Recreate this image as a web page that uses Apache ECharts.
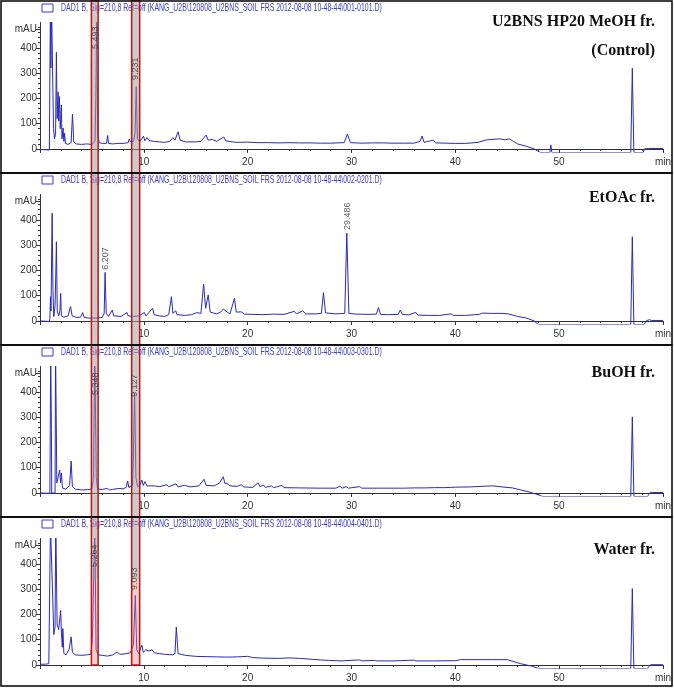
<!DOCTYPE html>
<html>
<head>
<meta charset="utf-8">
<script src="https://cdn.jsdelivr.net/npm/echarts@6/dist/echarts.min.js"></script>
<style>
  html, body { margin: 0; padding: 0; background: #fff; }
  #chart { width: 674px; height: 690px; }
</style>
</head>
<body>
<div id="chart"></div>
<script>
// chromatograms, [time (min), signal (mAU)]
const control = [
  [0, -2], [0.5, -3], [0.9, -4], [0.98, -2], [1.0, 560], [1.05, 320], [1.12, 560], [1.25, 560], [1.3, 80], [1.4, 40],
  [1.5, 60], [1.58, 382], [1.65, 120], [1.74, 226], [1.8, 110], [1.87, 207], [1.95, 80], [2.06, 174], [2.12, 40],
  [2.22, 83], [2.3, 30], [2.37, 62], [2.45, 22], [2.7, 18], [3.0, 25], [3.13, 138], [3.25, 28], [3.5, 20], [4.0, 18],
  [4.5, 20], [5.0, 18], [5.3, 30], [5.38, 200], [5.47, 560], [5.55, 60], [5.7, 25], [6.0, 22], [6.4, 22], [6.52, 53],
  [6.6, 22], [7.0, 20], [7.5, 22], [8.0, 22], [8.5, 25], [8.6, 40], [8.7, 28], [9.0, 30], [9.15, 60], [9.27, 246],
  [9.38, 40], [9.6, 28], [9.97, 51], [10.1, 32], [10.3, 45], [10.5, 33], [11.0, 30], [11.5, 28], [12.0, 26],
  [12.5, 30], [12.8, 45], [13.0, 35], [13.3, 68], [13.5, 35], [14.0, 28], [15.0, 28], [15.5, 30], [16.0, 55],
  [16.2, 35], [16.6, 38], [17.0, 30], [17.7, 47], [17.9, 32], [18.5, 28], [19.0, 26], [20.0, 27], [21.0, 25],
  [22.0, 25], [23.0, 24], [24.0, 25], [25.0, 24], [26.0, 24], [27.0, 23], [28.0, 23], [29.3, 25], [29.6, 59],
  [29.9, 25], [31.0, 23], [32.0, 24], [33.0, 24], [34.0, 23], [35.0, 23], [36.0, 23], [36.6, 30], [36.8, 51],
  [37.0, 26], [37.9, 35], [38.1, 24], [39.0, 23], [40.0, 22], [41.0, 22], [42.2, 26], [43.0, 36], [44.3, 40],
  [44.8, 36], [45.2, 40], [45.6, 30], [46.0, 20], [46.9, 10], [47.6, 0], [48.2, -14], [49.1, -14], [49.2, 16],
  [49.3, -14], [56.9, -14], [57.05, 319], [57.2, -14], [58.1, -14], [58.2, 0], [58.6, 2], [60, 2]
];
const etoac = [
  [0, 0], [0.5, -1], [0.9, -2], [0.95, 10], [1.01, 96], [1.06, 40], [1.17, 426], [1.25, 120], [1.33, 17], [1.45, 60],
  [1.52, 182], [1.58, 313], [1.66, 40], [1.8, 20], [1.92, 40], [1.99, 109], [2.06, 20], [2.3, 15], [2.7, 20],
  [2.94, 57], [3.1, 20], [3.5, 14], [3.9, 15], [4.11, 33], [4.25, 14], [4.6, 12], [5.0, 11], [5.5, 12], [6.0, 14],
  [6.18, 30], [6.27, 192], [6.38, 30], [6.6, 18], [6.96, 43], [7.1, 20], [7.8, 18], [8.38, 33], [8.5, 20], [9.0, 18],
  [9.5, 20], [10.06, 33], [10.2, 20], [10.85, 50], [11.0, 25], [11.5, 20], [12.0, 18], [12.4, 25], [12.66, 96],
  [12.8, 30], [13.07, 40], [13.2, 25], [14.0, 22], [14.6, 25], [15.1, 33], [15.5, 30], [15.76, 146], [15.95, 50],
  [16.2, 103], [16.4, 35], [17.0, 28], [17.4, 35], [17.66, 47], [18.04, 35], [18.3, 28], [18.73, 90], [18.9, 35],
  [19.4, 36], [19.7, 27], [20.5, 26], [21.5, 25], [22.5, 27], [23.5, 26], [24.5, 38], [24.7, 28], [25.3, 40],
  [25.6, 28], [26.5, 28], [27.1, 30], [27.3, 112], [27.5, 32], [28.5, 28], [29.35, 30], [29.55, 347], [29.75, 30],
  [30.5, 27], [31.5, 26], [32.4, 27], [32.6, 53], [32.8, 26], [33.5, 25], [34.5, 26], [34.7, 43], [34.9, 26],
  [35.5, 24], [36.2, 34], [36.4, 23], [37.5, 22], [38.5, 22], [39.6, 28], [39.8, 22], [41.0, 22], [42.3, 26],
  [42.6, 31], [43.5, 30], [44.5, 30], [45.1, 28], [46.0, 18], [46.9, 11], [47.6, 0], [48.0, -14], [56.9, -14],
  [57.05, 333], [57.2, -14], [58.2, -14], [58.4, 1], [58.7, 5], [58.9, 2], [60, 2]
];
const buoh = [
  [0, 0], [0.5, -1], [0.95, -1], [1.0, 0], [1.03, 560], [1.08, 560], [1.1, 250], [1.13, 0], [1.45, 0], [1.5, 560],
  [1.58, 560], [1.62, 40], [1.75, 35], [1.9, 91], [1.98, 40], [2.06, 79], [2.15, 30], [2.2, 18], [2.5, 15],
  [2.85, 30], [3.0, 126], [3.12, 25], [3.4, 15], [4.0, 12], [4.6, 13], [5.0, 16], [5.15, 60], [5.28, 560],
  [5.42, 60], [5.55, 15], [6.0, 14], [6.5, 18], [6.7, 12], [7.0, 14], [7.6, 18], [8.0, 16], [8.3, 22], [8.45, 47],
  [8.55, 22], [8.92, 30], [8.98, 120], [9.11, 395], [9.24, 60], [9.4, 25], [9.6, 28], [9.81, 51], [9.95, 30],
  [10.1, 45], [10.3, 28], [11.0, 28], [11.5, 25], [12.2, 32], [12.4, 25], [13.1, 36], [13.3, 24], [13.9, 30],
  [14.5, 24], [15.3, 28], [15.8, 54], [16.0, 30], [16.8, 28], [17.3, 40], [17.66, 64], [17.8, 38], [18.0, 38],
  [18.3, 28], [19.0, 26], [19.4, 33], [19.6, 24], [20.5, 22], [21.0, 40], [21.2, 24], [21.5, 32], [21.7, 22],
  [22.3, 28], [22.5, 21], [23.3, 30], [23.5, 21], [25.0, 20], [27.0, 19], [28.5, 19], [28.9, 27], [29.1, 19],
  [29.5, 25], [29.7, 19], [30.8, 25], [31.0, 19], [33.0, 19], [35.0, 19], [36.0, 20], [37.0, 20], [38.0, 21],
  [39.0, 21], [40.0, 23], [41.5, 24], [43.0, 27], [43.6, 28], [44.5, 24], [45.5, 20], [46.3, 12], [47.2, 3],
  [48.2, -10], [48.3, -3], [48.4, -14], [56.9, -14], [57.05, 301], [57.2, -14], [58.5, -14], [58.8, 3], [59.0, 2],
  [60, 2]
];
const water = [
  [0, 3], [0.5, 3], [0.85, 5], [0.9, 12], [0.95, 5], [1.01, 560], [1.14, 560], [1.2, 300], [1.33, 120], [1.45, 150],
  [1.52, 560], [1.6, 560], [1.65, 158], [1.8, 140], [1.99, 216], [2.06, 130], [2.1, 127], [2.15, 70], [2.2, 144],
  [2.3, 45], [2.5, 40], [2.8, 61], [3.0, 111], [3.12, 50], [3.4, 40], [4.0, 38], [4.5, 40], [4.9, 42], [5.05, 104],
  [5.28, 560], [5.4, 60], [5.6, 40], [6.0, 38], [6.5, 35], [7.0, 40], [7.43, 51], [7.7, 42], [8.2, 44], [8.7, 48],
  [8.92, 71], [9.0, 80], [9.18, 275], [9.32, 60], [9.5, 45], [9.81, 78], [9.95, 50], [10.2, 60], [10.5, 55],
  [10.8, 60], [11.0, 48], [11.5, 45], [12.0, 42], [12.8, 40], [13.0, 45], [13.13, 150], [13.3, 45], [14.0, 38],
  [15.0, 34], [16.0, 33], [17.0, 32], [18.0, 31], [19.0, 32], [20.0, 34], [20.5, 29], [21.5, 27], [23.0, 26],
  [24.0, 28], [25.0, 26], [26.0, 23], [27.0, 20], [27.8, 18], [29.0, 16], [30.8, 20], [31.0, 16], [32.2, 18],
  [32.4, 16], [34.0, 16], [36.0, 19], [36.2, 16], [38.0, 16], [40.0, 17], [40.5, 21], [42.0, 21], [43.5, 21],
  [45.0, 21], [46.3, 5], [47.4, -5], [48.0, -14], [56.9, -14], [57.05, 302], [57.2, -14], [58.5, -14], [58.8, 1],
  [60, 1]
];

// retention time labels, [time, mAU where the label starts, text]
const controlPeaks = [[5.38, 395, '5.493'], [9.18, 273, '9.231']];
const etoacPeaks = [[6.27, 202, '6.207'], [29.6, 360, '29.486']];
const buohPeaks = [[5.31, 387, '5.348'], [9.1, 380, '9.127']];
const waterPeaks = [[5.28, 387, '5.264'], [9.1, 296, '9.093']];

const fileIds = ['001-0101', '002-0201', '003-0301', '004-0401'];
const sampleNames = [['U2BNS HP20 MeOH fr.', '(Control)'], ['EtOAc fr.'], ['BuOH fr.'], ['Water fr.']];

const yLabelValues = [0, 100, 200, 300, 400];
const yMinorValues = [20, 40, 60, 80, 120, 140, 160, 180, 220, 240, 260, 280, 320, 340, 360, 380, 420, 440, 460, 480];
const unitValue = 474;

// marked retention windows, [from, to] in min
const bands = [[4.95, 5.6], [8.83, 9.6]];

const traces = [control, etoac, buoh, water];
const peaks = [controlPeaks, etoacPeaks, buohPeaks, waterPeaks];

const LINE = '#2a2ab8';
const AXIS = '#333';
const bottoms = [152, 324, 496, 668];
const plotH = 129.5;

const chart = echarts.init(document.getElementById('chart'));

const grid = [], xAxis = [], yAxis = [], series = [];
traces.forEach((trace, i) => {
  grid.push({ left: 40, right: 2, top: bottoms[i] - plotH, height: plotH });
  xAxis.push({
    type: 'value', gridIndex: i, min: 0, max: 60, interval: 10,
    axisLine: { lineStyle: { color: AXIS, width: 1 } },
    axisTick: { length: 4, lineStyle: { color: AXIS } },
    minorTick: { show: true, splitNumber: 5, length: 2, lineStyle: { color: AXIS } },
    splitLine: { show: false },
    axisLabel: {
      color: AXIS, fontSize: 10, margin: 5, fontFamily: 'Liberation Sans Narrow, Liberation Sans, sans-serif',
      formatter: v => (v === 0 ? '' : v === 60 ? 'min' : String(v))
    }
  });
  yAxis.push({
    type: 'value', gridIndex: i, min: -12, max: 500, position: 'left',
    axisLine: { show: true, lineStyle: { color: AXIS, width: 1 } },
    axisTick: { show: true, length: 4, customValues: yLabelValues.concat([unitValue]), lineStyle: { color: AXIS } },
    splitLine: { show: false },
    axisLabel: {
      color: AXIS, fontSize: 10, margin: 3, customValues: yLabelValues.concat([unitValue]),
      fontFamily: 'Liberation Sans Narrow, Liberation Sans, sans-serif',
      formatter: v => (v === unitValue ? 'mAU' : String(v))
    }
  });
  yAxis.push({
    type: 'value', gridIndex: i, min: -12, max: 500, position: 'left', offset: 0,
    axisLine: { show: false },
    axisTick: { show: true, length: 2, customValues: yMinorValues, lineStyle: { color: AXIS } },
    axisLabel: { show: false },
    splitLine: { show: false }
  });
  series.push({
    type: 'line', xAxisIndex: i, yAxisIndex: i * 2, data: trace,
    showSymbol: false, symbol: 'none', animation: false, silent: true,
    lineStyle: { color: LINE, width: 1 }, z: 3
  });
  series.push({
    type: 'scatter', xAxisIndex: i, yAxisIndex: i * 2, data: peaks[i],
    symbolSize: 0, animation: false, silent: true,
    label: {
      show: true, position: 'top', distance: 0, rotate: 90, align: 'left', verticalAlign: 'middle',
      fontSize: 9, color: '#333', fontFamily: 'Liberation Sans, sans-serif',
      formatter: p => p.data[2]
    },
    z: 10
  });
});

chart.setOption({ animation: false, grid, xAxis, yAxis, series });

// headers, panel labels, frames and the marked windows
const graphic = [];
const panelH = 172;
fileIds.forEach((id, i) => {
  const y0 = i * panelH;
  graphic.push({
    type: 'rect', shape: { x: 42, y: y0 + 4, width: 11, height: 8 },
    style: { fill: 'none', stroke: '#3b3bd0', lineWidth: 1 }, z: 5
  });
  graphic.push({
    type: 'text', x: 61, y: y0 + 8, scaleX: 0.63,
    style: {
      text: 'DAD1 B, Sig=210,8 Ref=off (KANG_U2B\\120808_U2BNS_SOIL FRS 2012-08-08 10-48-44\\' + id + '.D)',
      fill: '#3b3bd0', fontSize: 11, fontFamily: 'Liberation Sans, sans-serif',
      verticalAlign: 'middle'
    }, z: 5
  });
});
const nameY = [[22, 51], [198], [373], [550]];
sampleNames.forEach((lines, i) => {
  lines.forEach((txt, k) => {
    graphic.push({
      type: 'text', x: 655, y: nameY[i][k],
      style: {
        text: txt, fill: '#111', fontSize: 16, fontWeight: 'bold',
        fontFamily: 'Liberation Serif, DejaVu Serif, serif', align: 'right', verticalAlign: 'middle'
      }, z: 5
    });
  });
});

const bandBottom = chart.convertToPixel({ gridIndex: 3 }, [0, 0])[1];
const pinkTop = chart.convertToPixel({ gridIndex: 3 }, [0, 340])[1];
bands.forEach(b => {
  const x1 = chart.convertToPixel({ gridIndex: 0 }, [b[0], 0])[0];
  const x2 = chart.convertToPixel({ gridIndex: 0 }, [b[1], 0])[0];
  graphic.push({
    type: 'rect', shape: { x: x1, y: pinkTop, width: x2 - x1, height: bandBottom - pinkTop },
    style: { fill: 'rgba(235,130,130,0.4)' }, z: 6
  });
  graphic.push({
    type: 'rect', shape: { x: x1, y: 0, width: x2 - x1, height: pinkTop },
    style: { fill: 'rgba(160,160,160,0.55)' }, z: 6
  });
  graphic.push({
    type: 'rect', shape: { x: x1, y: 0, width: x2 - x1, height: bandBottom },
    style: { fill: 'none', stroke: '#cc1010', lineWidth: 1.5 }, z: 7
  });
});

for (let i = 0; i < 4; i++) {
  graphic.push({
    type: 'rect', shape: { x: 1, y: 1 + i * panelH, width: 671, height: panelH - (i === 3 ? 3 : 0) },
    style: { fill: 'none', stroke: '#000', lineWidth: 1.5 }, z: 8
  });
}

chart.setOption({ graphic });

window.addEventListener('resize', () => chart.resize());
</script>
</body>
</html>
